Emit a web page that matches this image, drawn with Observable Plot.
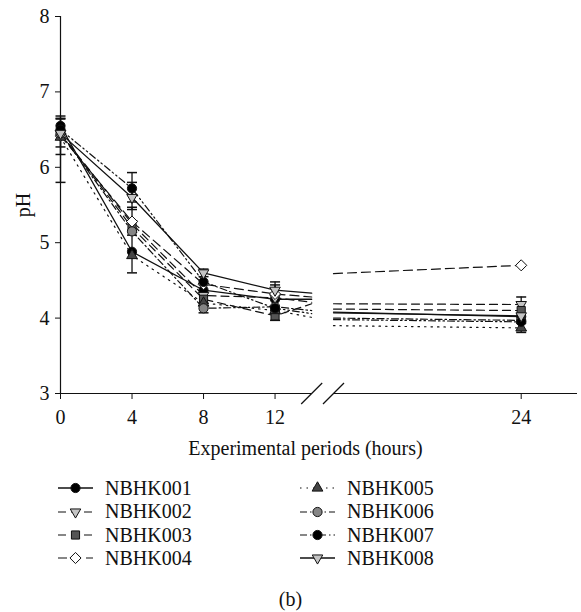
<!DOCTYPE html>
<html><head><meta charset="utf-8">
<script src="https://cdn.jsdelivr.net/npm/d3@7"></script>
<script src="https://cdn.jsdelivr.net/npm/@observablehq/plot@0.6"></script>
<style>
body{margin:0;background:#fff;}
#wrap{position:relative;width:581px;height:612px;font-family:"Liberation Serif","Times New Roman",serif;color:#111;background:#fff;}
#wrap > svg, #wrap > figure{position:absolute;left:0;top:0;margin:0;}
.leg{position:absolute;height:24px;display:flex;align-items:center;font-size:20px;white-space:nowrap;}
.cap{position:absolute;width:581px;text-align:center;font-size:20px;}
</style></head><body><div id="wrap"></div>
<script>
// ---- data (pH) ----
const hours = [0, 4, 8, 12, 24];
const yTicks = [3, 4, 5, 6, 7, 8];
const xTicks = [0, 4, 8, 12, 24];
const seriesNames = ["NBHK001","NBHK002","NBHK003","NBHK004","NBHK005","NBHK006","NBHK007","NBHK008"];
const nbhk001 = [6.55, 4.88, 4.37, 4.25, 4.02];
const nbhk002 = [6.45, 5.25, 4.30, 4.27, 4.18];
const nbhk003 = [6.45, 5.20, 4.25, 4.03, 4.10];
const nbhk004 = [6.42, 5.28, 4.45, 4.32, 4.70];
const nbhk005 = [6.40, 4.83, 4.20, 4.10, 3.87];
const nbhk006 = [6.45, 5.15, 4.13, 4.15, 3.97];
const nbhk007 = [6.50, 5.72, 4.48, 4.13, 3.95];
const nbhk008 = [6.45, 5.60, 4.60, 4.37, 4.03];
// line level where each series leaves the first axis segment / enters the second
const breakLeft  = [4.25, 4.21, 4.19, 4.28, 4.01, 4.10, 4.06, 4.33];
const breakRight = [4.08, 4.19, 4.12, 4.59, 3.90, 4.00, 3.98, 4.07];
// error bars
const errSeries = ["NBHK001","NBHK007","NBHK008","NBHK001","NBHK007","NBHK008","NBHK004","NBHK008","NBHK006","NBHK008","NBHK001","NBHK003","NBHK003","NBHK005"];
const errHour   = [0, 0, 0, 4, 4, 4, 4, 8, 8, 12, 12, 12, 24, 24];
const errLow    = [6.27, 5.80, 6.17, 4.60, 5.54, 5.44, 5.10, 4.55, 4.07, 4.26, 4.06, 3.97, 3.95, 3.81];
const errHigh   = [6.68, 6.65, 6.64, 5.16, 5.93, 5.80, 5.47, 4.65, 4.20, 4.48, 4.44, 4.10, 4.28, 3.93];

// ---- axis layout (broken x axis) ----
const xDomain = [0, 14.05, 21, 24.9];
const xRange = [60, 311.2, 333, 577];
const xSegStart = [0, 21];
const xSegEnd = [14.05, 24.9];

const seriesValues = [nbhk001, nbhk002, nbhk003, nbhk004, nbhk005, nbhk006, nbhk007, nbhk008];

const sqrt3 = Math.sqrt(3);
const invTriangle = {draw(ctx, size) {
  const y = -Math.sqrt(size / (sqrt3 * 3));
  ctx.moveTo(0, -2 * y); ctx.lineTo(-sqrt3 * y, y); ctx.lineTo(sqrt3 * y, y); ctx.closePath();
}};
const capSym = {draw(ctx) { ctx.moveTo(-5, 0); ctx.lineTo(5, 0); }};
const slashSym = {draw(ctx) { ctx.moveTo(-10.5, 10.5); ctx.lineTo(10.5, -10.5); }};

const styles = [
  {dash: null, symbol: "circle", d3s: d3.symbolCircle, fill: "#000", r: 4.6},
  {dash: "8,5", symbol: invTriangle, d3s: invTriangle, fill: "#c4c4c4", r: 3.9},
  {dash: "8,5", symbol: "square", d3s: d3.symbolSquare, fill: "#555", r: 4.6},
  {dash: "9,5", symbol: "diamond2", d3s: d3.symbolDiamond2, fill: "#fff", r: 5.0},
  {dash: "1.5,5", symbol: "triangle", d3s: d3.symbolTriangle, fill: "#444", r: 4.0},
  {dash: "7,3,1.5,3", symbol: "circle", d3s: d3.symbolCircle, fill: "#858585", r: 4.6},
  {dash: "7,3,1.5,3,1.5,3", symbol: "circle", d3s: d3.symbolCircle, fill: "#000", r: 4.6},
  {dash: null, symbol: invTriangle, d3s: invTriangle, fill: "#c4c4c4", r: 3.9}
];

const marks = [];
// axes lines
marks.push(Plot.ruleX([0], {y1: yTicks[0], y2: yTicks[yTicks.length - 1], stroke: "#111", strokeWidth: 1.2}));
marks.push(Plot.ruleY(xSegStart.map((s, i) => ({x1: s, x2: xSegEnd[i]})), {x1: "x1", x2: "x2", y: yTicks[0], stroke: "#111", strokeWidth: 1.2}));
marks.push(Plot.dot([xSegEnd[0], xSegStart[1]], {x: d => d, y: yTicks[0], symbol: slashSym, r: 5, fill: "none", stroke: "#111", strokeWidth: 1.2}));

// lines
seriesNames.forEach((name, i) => {
  const v = seriesValues[i];
  const pts = [];
  hours.forEach((h, j) => { if (h <= 12) pts.push({seg: 0, hour: h, pH: v[j]}); });
  pts.push({seg: 0, hour: xSegEnd[0], pH: breakLeft[i]});
  pts.push({seg: 1, hour: xSegStart[1], pH: breakRight[i]});
  pts.push({seg: 1, hour: 24, pH: v[hours.indexOf(24)]});
  marks.push(Plot.line(pts, {x: "hour", y: "pH", z: "seg", stroke: "#111", strokeWidth: styles[i].dash ? 1.2 : 1.3, strokeDasharray: styles[i].dash || undefined}));
});

// error bars
const errs = errSeries.map((s, k) => ({series: s, hour: errHour[k], lo: errLow[k], hi: errHigh[k]}));
marks.push(Plot.ruleX(errs, {x: "hour", y1: "lo", y2: "hi", stroke: "#111", strokeWidth: 1.3}));
marks.push(Plot.dot(errs, {x: "hour", y: "lo", symbol: capSym, fill: "none", stroke: "#111", strokeWidth: 1.5}));
marks.push(Plot.dot(errs, {x: "hour", y: "hi", symbol: capSym, fill: "none", stroke: "#111", strokeWidth: 1.5}));

// markers
seriesNames.forEach((name, i) => {
  const pts = hours.map((h, j) => ({hour: h, pH: seriesValues[i][j]}));
  marks.push(Plot.dot(pts, {x: "hour", y: "pH", symbol: styles[i].symbol, r: styles[i].r, fill: styles[i].fill, stroke: "#111", strokeWidth: 1}));
});

// axis titles
marks.push(Plot.text(["pH"], {frameAnchor: "left", dx: -37, rotate: -90, textAnchor: "middle", lineAnchor: "middle", fontSize: 20}));
marks.push(Plot.text(["Experimental periods (hours)"], {frameAnchor: "bottom", dx: -13.5, dy: 55, textAnchor: "middle", lineAnchor: "middle", fontSize: 20}));

const chart = Plot.plot({
  width: 581,
  height: 450,
  marginTop: 16,
  marginBottom: 57,
  marginLeft: 60,
  marginRight: 4,
  style: {fontFamily: '"Liberation Serif","Times New Roman",serif', fontSize: "20px", color: "#111", background: "white", overflow: "visible"},
  x: {type: "linear", domain: xDomain, range: xRange, ticks: xTicks, tickSize: 6, tickPadding: 10, label: null, tickFormat: d => String(d)},
  y: {domain: [yTicks[0], yTicks[yTicks.length - 1]], ticks: yTicks, tickSize: 5, tickPadding: 6, label: null, tickFormat: d => String(d)},
  marks
});
const wrap = document.getElementById("wrap");
wrap.appendChild(chart);

// legend
const legendCols = [{sx: 56, tx: 105}, {sx: 298, tx: 347}];
const legendRows = [488.3, 511.7, 535, 558.3];
seriesNames.forEach((name, i) => {
  const col = legendCols[Math.floor(i / 4)];
  const cy = legendRows[i % 4];
  const st = styles[i];
  const svg = d3.create("svg").attr("width", 40).attr("height", 20)
    .style("position", "absolute").style("left", col.sx + "px").style("top", (cy - 10) + "px");
  svg.append("line").attr("x1", 2).attr("x2", 37).attr("y1", 10).attr("y2", 10)
    .attr("stroke", "#111").attr("stroke-width", st.dash ? 1.2 : 1.3)
    .attr("stroke-dasharray", st.dash || null);
  svg.append("path").attr("transform", "translate(19.5,10)")
    .attr("d", d3.symbol(st.d3s, st.r * st.r * Math.PI)())
    .attr("fill", st.fill).attr("stroke", "#111").attr("stroke-width", 1);
  wrap.appendChild(svg.node());
  const t = document.createElement("div");
  t.className = "leg";
  t.style.left = col.tx + "px";
  t.style.top = (cy - 12) + "px";
  t.textContent = name;
  wrap.appendChild(t);
});
const cap = document.createElement("div");
cap.className = "cap";
cap.style.top = "588px";
cap.textContent = "(b)";
wrap.appendChild(cap);
</script></body></html>
